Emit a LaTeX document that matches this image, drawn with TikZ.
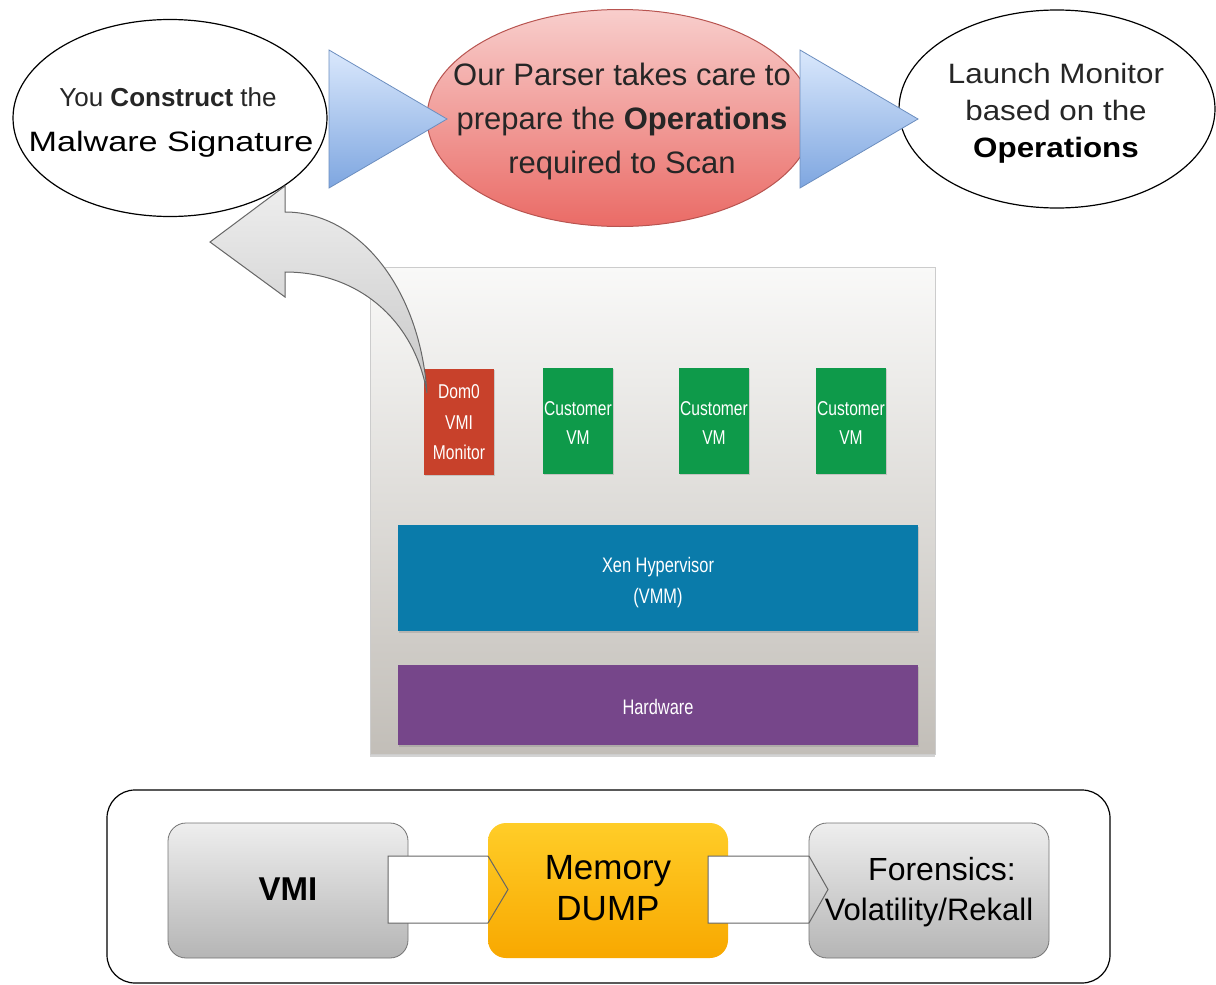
\documentclass[tikz,border=0pt]{standalone}
\usepackage{fontspec}
\setmainfont{Liberation Sans}
\newfontfamily\wideA[FakeStretch=1.22]{Liberation Sans}
\newfontfamily\wideB[FakeStretch=1.12]{Liberation Sans}
\newfontfamily\narrowf[FakeStretch=0.78]{Liberation Sans}
\usetikzlibrary{shapes.geometric,shadows}
\definecolor{triTop}{HTML}{DAE8FC}
\definecolor{triBot}{HTML}{7EA6E0}
\definecolor{triLine}{HTML}{6C8EBF}
\definecolor{redTop}{HTML}{F8CECC}
\definecolor{redBot}{HTML}{EA6B66}
\definecolor{redLine}{HTML}{B85450}
\definecolor{panelTop}{HTML}{F9F9F8}
\definecolor{panelBot}{HTML}{C2BEB8}
\definecolor{domRed}{HTML}{C8412B}
\definecolor{vmGreen}{HTML}{0E9A4A}
\definecolor{xenBlue}{HTML}{0A7BAA}
\definecolor{hwPurple}{HTML}{76468A}
\definecolor{grayTop}{HTML}{EEEEEE}
\definecolor{grayBot}{HTML}{B5B5B5}
\definecolor{orTop}{HTML}{FFCD28}
\definecolor{orBot}{HTML}{F8A800}
\tikzset{
  bubble/.style={ellipse, draw=black, line width=1.2pt, fill=white, inner sep=0pt},
  parser/.style={ellipse, draw=redLine, line width=1pt, top color=redTop, bottom color=redBot, inner sep=0pt},
  tri/.style={draw=triLine, line width=0.8pt, top color=triTop, bottom color=triBot},
  curvearrow/.style={draw=black!60, line width=1pt, top color=grayTop, bottom color=black!22},
  panelbox/.style={rectangle, top color=panelTop, bottom color=panelBot, draw=black!20, line width=0.6pt, inner sep=0pt,
     drop shadow={shadow xshift=0pt, shadow yshift=-3pt, opacity=.35}},
  vmbox/.style={rectangle, inner sep=0pt, minimum width=70pt, minimum height=106pt,
     drop shadow={shadow xshift=1pt, shadow yshift=-1.5pt, opacity=.3}},
  layer/.style={rectangle, inner sep=0pt, minimum width=520pt,
     drop shadow={shadow xshift=1pt, shadow yshift=-1.5pt, opacity=.3}},
  ptext/.style={text=white, font=\narrowf\fontsize{20}{24}\selectfont, anchor=base, inner sep=0pt},
  ltext/.style={text=white, font=\narrowf\fontsize{21}{24}\selectfont, anchor=base, inner sep=0pt},
  stepbox/.style={rectangle, rounded corners=18pt, draw=black!55, line width=0.8pt, minimum width=240pt, minimum height=135pt, inner sep=0pt},
  band/.style={draw=black!60, line width=1pt, fill=white},
  btext/.style={anchor=base, inner sep=0pt, text=black},
}
\begin{document}
\begin{tikzpicture}[x=1pt,y=-1pt]
\useasboundingbox (0,0) rectangle (1216,985);

% ---- top row ----
\node[bubble, minimum width=314pt, minimum height=197pt] (sig) at (170,118) {};
\node[btext, font=\fontsize{26}{30}\selectfont, text=black!85] (sigA) at (168,106) {You \textbf{Construct} the};
\node[btext, font=\wideA\fontsize{28}{32}\selectfont] (sigB) at (171,151) {Malware Signature};

\node[parser, minimum width=386pt, minimum height=217pt] (pars) at (620,118) {};
\node[btext, font=\fontsize{31}{36}\selectfont, text=black!85] (parA) at (622,85) {Our Parser takes care to};
\node[btext, font=\fontsize{31}{36}\selectfont, text=black!85] (parB) at (622,129) {prepare the \textbf{Operations}};
\node[btext, font=\fontsize{31}{36}\selectfont, text=black!85] (parC) at (622,173) {required to Scan};

\node[bubble, minimum width=316pt, minimum height=198pt] (mon) at (1057,109) {};
\node[btext, font=\wideB\fontsize{28}{32}\selectfont, text=black!85] (monA) at (1056,83) {Launch Monitor};
\node[btext, font=\wideB\fontsize{28}{32}\selectfont, text=black!85] (monB) at (1056,120) {based on the};
\node[btext, font=\wideB\fontsize{28}{32}\selectfont] (monC) at (1056,157) {\textbf{Operations}};

% block triangles
\coordinate (t1a) at (329,50);
\coordinate (t1b) at (329,188);
\coordinate (t1c) at (447,119);
\path[tri] (t1a) -- (t1c) -- (t1b) -- cycle;
\coordinate (t2a) at (800,50);
\coordinate (t2b) at (800,188);
\coordinate (t2c) at (918,119);
\path[tri] (t2a) -- (t2c) -- (t2b) -- cycle;

% ---- virtualization panel ----
\node[panelbox, minimum width=565pt, minimum height=487pt] (panel) at (652.5,510.5) {};
\node[vmbox, fill=domRed] (dom0) at (459,421.5) {};
\node[ptext] at (459,398) {Dom0};
\node[ptext] at (459,429) {VMI};
\node[ptext] at (459,459) {Monitor};
\node[vmbox, fill=vmGreen] (vm1) at (578,420.5) {};
\node[vmbox, fill=vmGreen] (vm2) at (714,420.5) {};
\node[vmbox, fill=vmGreen] (vm3) at (851,420.5) {};
\foreach \vx in {578,714,851}{
  \node[ptext] at (\vx,415) {Customer};
  \node[ptext] at (\vx,444) {VM};
}
\node[layer, fill=xenBlue, minimum height=106pt] (xen) at (658,578) {};
\node[ltext] at (658,572) {Xen Hypervisor};
\node[ltext] at (658,603) {(VMM)};
\node[layer, fill=hwPurple, minimum height=80pt] (hw) at (658,705) {};
\node[ltext] at (658,714) {Hardware};

% curved arrow from Dom0 to signature
\coordinate (tail) at (427,393);
\path[curvearrow] (tail) .. controls (415,322) and (360,272) .. (285,272) -- (285,297) -- (210,242) -- (285,186) -- (285,212) .. controls (360,212) and (420,290) .. (tail) -- cycle;

% ---- bottom process ----
\node[draw=black, line width=1.2pt, rounded corners=28pt, minimum width=1003pt, minimum height=193pt, inner sep=0pt] (frame) at (608.5,886.5) {};
\node[stepbox, top color=grayTop, bottom color=grayBot] (vmi) at (288,890.5) {};
\node[btext, font=\fontsize{33}{36}\selectfont\bfseries] at (288,900) {VMI};

\coordinate (b1s) at (388,856);
\path[band] (b1s) -- (490,856) -- (510,889.5) -- (490,923) -- (388,923) -- cycle;
\node[stepbox, draw=none, top color=orTop, bottom color=orBot] (dump) at (608,890.5) {};
\draw[black!60, line width=1pt] (488,856) -- (508,889.5) -- (488,923);
\node[btext, font=\fontsize{35}{38}\selectfont] at (608,879) {Memory};
\node[btext, font=\fontsize{35}{38}\selectfont] at (608,920) {DUMP};

\coordinate (b2s) at (708,856);
\path[band] (b2s) -- (810,856) -- (830,889.5) -- (810,923) -- (708,923) -- cycle;
\node[stepbox, top color=grayTop, bottom color=grayBot] (foren) at (929,890.5) {};
\draw[black!60, line width=1pt] (809,856) -- (828,889.5) -- (809,923);
\node[btext, font=\fontsize{32}{36}\selectfont] at (942,880) {Forensics:};
\node[btext, font=\fontsize{31}{36}\selectfont] at (929,920) {Volatility/Rekall};
\end{tikzpicture}
\end{document}
